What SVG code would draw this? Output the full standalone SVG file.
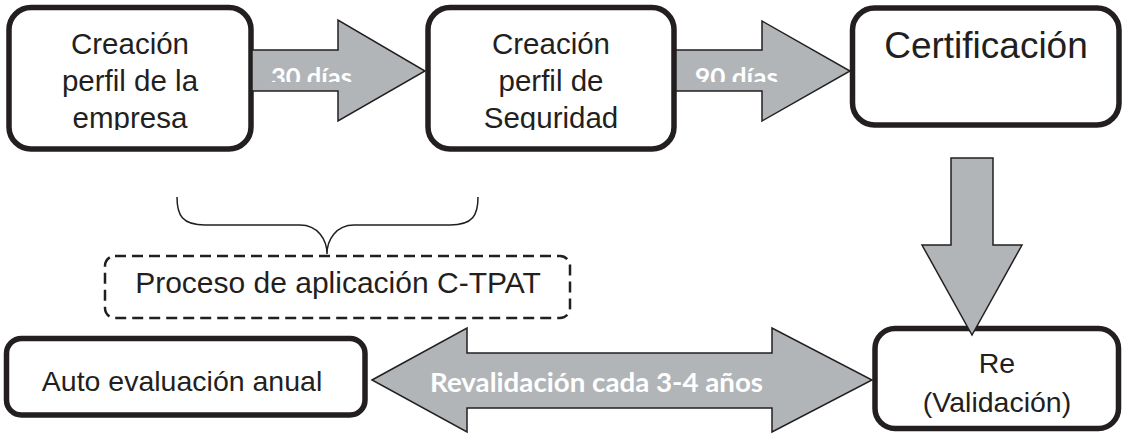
<svg xmlns="http://www.w3.org/2000/svg" width="1123" height="437" viewBox="0 0 1123 437">
<style>
.box{fill:#fff;stroke:#231f20;stroke-width:5.5}
.dash{fill:none;stroke:#231f20;stroke-width:2.5;stroke-dasharray:11 6}
.arrow{fill:#b2b5b8;stroke:#231f20;stroke-width:1.5;stroke-linejoin:miter}
.t{font-family:"Liberation Sans",Arial,sans-serif;fill:#231f20;text-anchor:middle}
.w{font-family:Lato,"Open Sans","Liberation Sans",sans-serif;font-weight:bold;fill:#fff}
.brace{fill:none;stroke:#231f20;stroke-width:1.5}
</style>
<defs>
<clipPath id="c1"><rect x="0" y="0" width="1123" height="130"/></clipPath>
<clipPath id="c30"><rect x="255" y="55" width="165" height="27"/></clipPath>
<clipPath id="c90"><rect x="679" y="55" width="165" height="27"/></clipPath>
<clipPath id="cv"><rect x="951" y="196" width="4" height="44"/></clipPath>
</defs>

<g id="n1">
<rect class="box" x="9" y="7.5" width="242" height="141.5" rx="22"/>
<g clip-path="url(#c1)" class="t" font-size="29.5">
<text x="130" y="54">Creación</text>
<text x="130" y="91">perfil de la</text>
<text x="130" y="128">empresa</text>
</g>
</g>

<g id="n2">
<rect class="box" x="428" y="7.5" width="246" height="141.5" rx="22"/>
<g clip-path="url(#c1)" class="t" font-size="29.5">
<text x="551" y="54">Creación</text>
<text x="551" y="91">perfil de</text>
<text x="551" y="128">Seguridad</text>
</g>
</g>

<g id="n3">
<rect class="box" x="852.5" y="8" width="266.5" height="117" rx="22"/>
<text class="t" x="986" y="58" font-size="37">Certificación</text>
</g>

<g id="n4">
<rect class="box" x="875" y="328.5" width="243.5" height="100" rx="20"/>
<text class="t" x="997" y="373" font-size="28.5">Re</text>
<text class="t" x="997" y="412" font-size="28.5">(Validación)</text>
</g>

<g id="n5">
<rect class="box" x="6.5" y="338.5" width="358.5" height="76.5" rx="15"/>
<text class="t" x="182" y="391" font-size="28.5">Auto evaluación anual</text>
</g>

<g id="n6">
<path class="brace" d="M177,197 C177,215 182,225 205,225 L300,225 C318,225 327,240 327,254 C327,240 336,225 354,225 L450,225 C473,225 478,215 478,197"/>
<rect class="dash" x="105" y="256" width="465" height="62" rx="10"/>
<text class="t" x="338" y="293" font-size="30">Proceso de aplicación C-TPAT</text>
</g>

<g id="connectors">
<path class="arrow" d="M252,50 L338,50 L338,20 L425,71 L338,121 L338,91 L252,91 Z"/>
<text class="w" x="271" y="86" font-size="25" textLength="81" lengthAdjust="spacingAndGlyphs" clip-path="url(#c30)">30 días</text>
<path class="arrow" d="M676,50 L762,50 L762,21 L850,71 L762,121 L762,91 L676,91 Z"/>
<text class="w" x="695" y="86" font-size="25" textLength="83" lengthAdjust="spacingAndGlyphs" clip-path="url(#c90)">90 días</text>
<path class="arrow" d="M951,158 L993,158 L993,245 L1022,245 L972,335 L922,245 L951,245 Z"/>
<text class="w" font-size="22" transform="translate(948,198) rotate(90)" clip-path="url(#cv)">120 días</text>
<path class="arrow" d="M372,380 L467,328 L467,353 L772,353 L772,328 L872,380 L772,432 L772,408 L467,408 L467,432 Z"/>
<text class="w" x="430" y="392" font-size="27" textLength="333" lengthAdjust="spacingAndGlyphs">Revalidación cada 3-4 años</text>
</g>
</svg>
